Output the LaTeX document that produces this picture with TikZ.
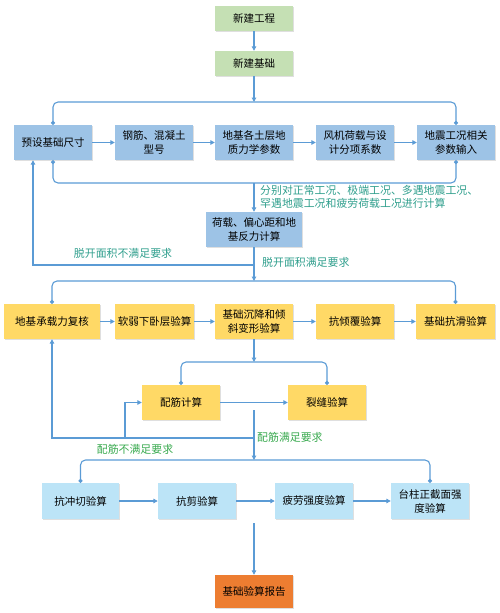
\documentclass[tikz,border=0pt]{standalone}
\usepackage{fontspec}
\newfontfamily\cjk{Noto Sans CJK SC}
\usetikzlibrary{arrows.meta,shadows,calc}
\definecolor{lgreen}{HTML}{C5E0B4}
\definecolor{mblue}{HTML}{9DC3E6}
\definecolor{myellow}{HTML}{FFD966}
\definecolor{lcyan}{HTML}{BCE4F7}
\definecolor{morange}{HTML}{ED7D31}
\definecolor{lineblue}{HTML}{5B9BD5}
\definecolor{tealtext}{HTML}{2E9E8C}
\definecolor{greentext}{HTML}{38A94E}
\tikzset{
  box/.style={rectangle, draw=none, minimum width=78pt, minimum height=35pt, align=center,
    font=\cjk\fontsize{10.5}{14}\selectfont, inner sep=1pt,
    drop shadow={shadow xshift=1.2pt, shadow yshift=-1.2pt, opacity=0.25, fill=gray}},
  greenbox/.style={box, fill=lgreen, minimum height=25pt},
  bluebox/.style={box, fill=mblue},
  yellowbox/.style={box, fill=myellow},
  cyanbox/.style={box, fill=lcyan, minimum height=36pt},
  orangebox/.style={box, fill=morange, minimum height=33pt},
  conn/.style={draw=lineblue, line width=1.1pt},
  arr/.style={conn, -{Triangle[length=4.5pt,width=4.5pt]}},
  busline/.style={conn, rounded corners=5pt, {Circle[length=4pt]}-{Circle[length=4pt]}},
  lbl/.style={font=\cjk\fontsize{10.9}{13}\selectfont, inner sep=0pt, align=left},
}
\begin{document}
\begin{tikzpicture}[x=1pt,y=-1pt]
\useasboundingbox (0,0) rectangle (499,613);
% top
\node[greenbox] (n1) at (254,18.5) {新建工程};
\node[greenbox] (n2) at (254,63.5) {新建基础};
% row 1
\node[bluebox] (a1) at (53,142.5) {预设基础尺寸};
\node[bluebox] (a2) at (154,142.5) {钢筋、混凝土\\型号};
\node[bluebox] (a3) at (254,142.5) {地基各土层地\\质力学参数};
\node[bluebox] (a4) at (355,142.5) {风机荷载与设\\计分项系数};
\node[bluebox] (a5) at (456,142.5) {地震工况相关\\参数输入};
\node[bluebox, minimum width=96pt] (b) at (254,229.5) {荷载、偏心距和地\\基反力计算};
% row 2
\node[yellowbox, minimum width=96pt] (c1) at (52,321.5) {地基承载力复核};
\node[yellowbox, minimum width=79pt] (c2) at (154.5,321.5) {软弱下卧层验算};
\node[yellowbox] (c3) at (254,321.5) {基础沉降和倾\\斜变形验算};
\node[yellowbox] (c4) at (355,321.5) {抗倾覆验算};
\node[yellowbox, minimum width=79pt] (c5) at (455.5,321.5) {基础抗滑验算};
\node[yellowbox] (d1) at (181,402.5) {配筋计算};
\node[yellowbox] (d2) at (327,402.5) {裂缝验算};
% row 3
\node[cyanbox, minimum width=77pt] (e1) at (80.5,501) {抗冲切验算};
\node[cyanbox] (e2) at (197,501) {抗剪验算};
\node[cyanbox] (e3) at (314,501) {疲劳强度验算};
\node[cyanbox] (e4) at (430,501) {台柱正截面强\\度验算};
\node[orangebox] (f) at (254,591.5) {基础验算报告};
% coordinates
\coordinate (busA) at (254,102);
\coordinate (busB) at (254,183);
\coordinate (fb1) at (254,265);
\coordinate (busC) at (254,281);
\coordinate (busD) at (254,362);
\coordinate (s2) at (254,410);
\coordinate (fb2) at (254,438);
\coordinate (fb2b) at (125,438);
\coordinate (busE) at (254,460);
\coordinate (s3) at (254,523);
% connectors top
\draw[arr] (n1) -- (n2);
\draw[arr] (n2) -- (busA);
\draw[busline] (a1.north) |- (busA) -| (a5.north);
\draw[arr] (a1) -- (a2);
\draw[arr] (a2) -- (a3);
\draw[arr] (a3) -- (a4);
\draw[arr] (a4) -- (a5);
\draw[busline] (a1.south) |- (busB) -| (a5.south);
\draw[arr] (busB) -- (b.north);
\node[lbl, text=tealtext, anchor=north west] (t1) at (260,185) {分别对正常工况、极端工况、多遇地震工况、\\罕遇地震工况和疲劳荷载工况进行计算};
\draw[arr] (b.south) -- (busC);
\draw[arr] (fb1) -| ([xshift=-20pt]a1.south);
\node[lbl, text=tealtext] (t2) at (123,253) {脱开面积不满足要求};
\node[lbl, text=tealtext, anchor=west] (t3) at (262,262) {脱开面积满足要求};
% row 2 connectors
\draw[busline] (c1.north) |- (busC) -| (c5.north);
\draw[arr] (c1) -- (c2);
\draw[arr] (c2) -- (c3);
\draw[arr] (c3) -- (c4);
\draw[arr] (c4) -- (c5);
\draw[arr] (c3.south) -- (busD);
\draw[busline] (d1.north) |- (busD) -| (d2.north);
\draw[arr] (d1) -- (d2);
\draw[arr] (s2) -- (busE);
\draw[arr] (fb2) -| (c1.south);
\draw[arr] (fb2b) |- (d1.west);
\node[lbl, text=greentext] (t4) at (135,449) {配筋不满足要求};
\node[lbl, text=greentext, anchor=west] (t5) at (257,437) {配筋满足要求};
% row 3 connectors
\draw[busline] (e1.north) |- (busE) -| (e4.north);
\draw[arr] (e1) -- (e2);
\draw[arr] (e2) -- (e3);
\draw[arr] (e3) -- (e4);
\draw[arr] (s3) -- (f.north);
\end{tikzpicture}
\end{document}
